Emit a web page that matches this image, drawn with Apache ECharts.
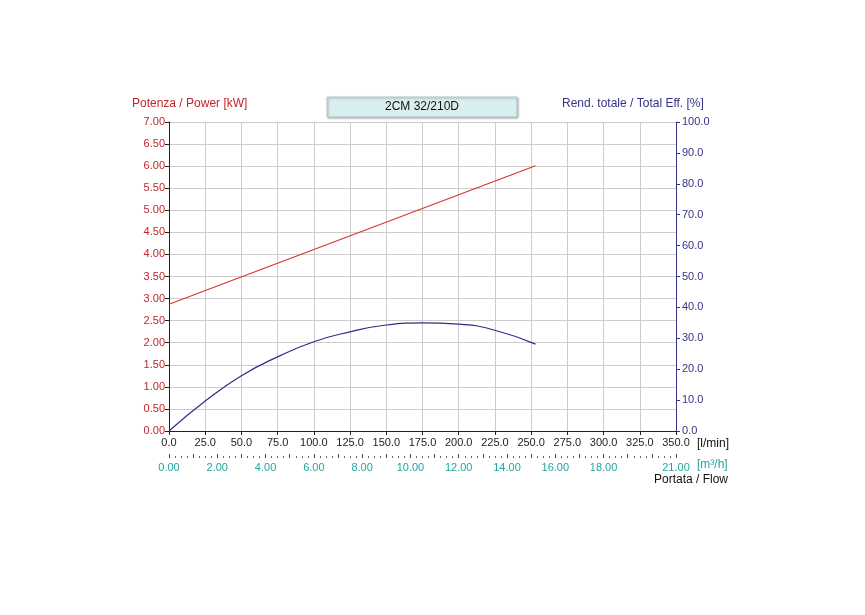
<!DOCTYPE html>
<html><head><meta charset="utf-8">
<script src="https://cdn.jsdelivr.net/npm/echarts@6/dist/echarts.min.js"></script>
<style>body{margin:0;background:#fff}#c{width:865px;height:615px}</style></head>
<body><div id="c"></div>
<script>
const powerData = [[0,2.87],[253,6.01]];
const effFlow = [0,25,50,75,100,125,150,175,200,225,253];
const effValues = [0,9.7,17.9,24.0,28.9,32.1,34.3,35.0,34.6,32.6,28.1];
const title = '2CM 32/210D';
const chart = echarts.init(document.getElementById('c'));
chart.setOption({
  animation:false,
  grid:[{left:169,right:189,top:122,bottom:184}, {left:169,right:189,top:122,bottom:157,show:false}],
  graphic:[
    {type:'rect',shape:{x:327,y:97,width:190,height:20},style:{fill:'#d9eeee',stroke:'#b9c9c9',shadowBlur:2,shadowOffsetX:1,shadowOffsetY:1,shadowColor:'rgba(0,0,0,0.3)'}},
    {type:'text',x:422,y:107,style:{text:title,fill:'#111',font:'12px Arial',align:'center',verticalAlign:'middle'}},
    {type:'text',x:132,y:98,style:{text:'Potenza / Power [kW]',fill:'#c0262a',font:'12px Arial'}},
    {type:'text',x:562,y:98,style:{text:'Rend. totale / Total Eff. [%]',fill:'#353385',font:'12px Arial'}},
    {type:'text',x:697,y:438,style:{text:'[l/min]',fill:'#111',font:'12px Arial'}},
    {type:'text',x:697,y:459,style:{text:'[m³/h]',fill:'#23a5a0',font:'12px Arial'}},
    {type:'text',x:728,y:474,style:{text:'Portata / Flow',fill:'#111',font:'12px Arial',align:'right'}}
  ],
  xAxis:[
    {type:'value',gridIndex:0,min:0,max:350,interval:25,position:'bottom',
     axisLine:{onZero:false,lineStyle:{color:'#222'}},axisTick:{length:4,lineStyle:{color:'#222'}},
     axisLabel:{color:'#222',fontSize:11,formatter:v=>v.toFixed(1),margin:6},
     splitLine:{lineStyle:{color:'#ccc'}}},
    {type:'value',gridIndex:1,min:0,max:21,interval:1,position:'bottom',
     axisLine:{show:false},axisTick:{length:4,inside:true,lineStyle:{color:'#444'}},
     minorTick:{show:true,splitNumber:4,length:2,lineStyle:{color:'#666'}},
     axisLabel:{color:'#23a5a0',fontSize:11,margin:4,
       formatter:v=>((v%2===0&&v<=18)||v===21)?v.toFixed(2):''},
     splitLine:{show:false}}
  ],
  yAxis:[
    {type:'value',gridIndex:0,min:0,max:7,interval:0.5,
     axisLine:{show:true,lineStyle:{color:'#222'}},axisTick:{show:true,length:4,lineStyle:{color:'#222'}},
     axisLabel:{color:'#c0262a',fontSize:11,formatter:v=>v.toFixed(2),margin:4},
     splitLine:{lineStyle:{color:'#ccc'}}},
    {type:'value',gridIndex:0,min:0,max:100,interval:10,position:'right',
     axisLine:{show:true,lineStyle:{color:'#353385'}},axisTick:{show:true,length:4,lineStyle:{color:'#353385'}},
     axisLabel:{color:'#353385',fontSize:11,formatter:v=>v.toFixed(1),margin:6},
     splitLine:{show:false}},
    {type:'value',gridIndex:1,show:false,min:0,max:1}
  ],
  series:[
    {type:'line',xAxisIndex:0,yAxisIndex:0,data:powerData,symbol:'none',lineStyle:{color:'#d8362c',width:1.2}},
    {type:'line',xAxisIndex:0,yAxisIndex:1,data:effFlow.map((f,i)=>[f,effValues[i]]),smooth:true,symbol:'none',lineStyle:{color:'#2e2c8a',width:1.2}}
  ]
});
</script></body></html>
